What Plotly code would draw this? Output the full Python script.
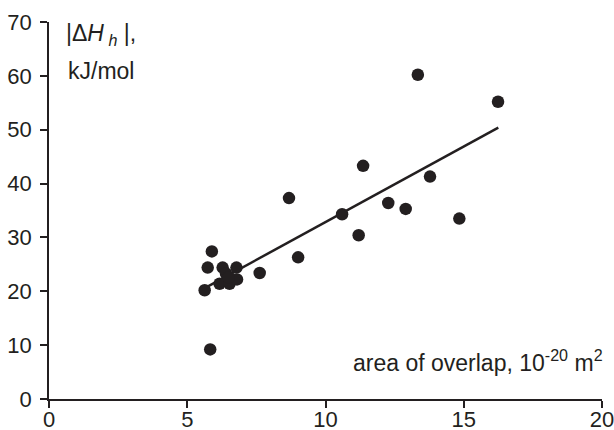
import plotly.graph_objects as go

# data
area = [5.83, 5.63, 5.74, 5.89, 6.17, 6.28, 6.40, 6.53, 6.78, 6.80, 6.50, 7.62,
        9.01, 8.68, 10.60, 11.20, 11.36, 12.27, 12.90, 13.78, 14.84, 13.34, 16.24]
dH = [9.2, 20.2, 24.4, 27.4, 21.4, 24.4, 23.3, 21.4, 24.4, 22.2, 22.6, 23.4,
      26.3, 37.3, 34.3, 30.4, 43.3, 36.4, 35.3, 41.3, 33.5, 60.2, 55.2]
fit_x = [5.6, 16.25]
fit_y = [20.5, 50.4]
x_ticks = [0, 5, 10, 15, 20]
y_ticks = [0, 10, 20, 30, 40, 50, 60, 70]

ink = "#231f20"
tick_font = dict(family="Liberation Sans, Arial, sans-serif", size=22, color=ink)
ann_font = dict(family="Liberation Sans, Arial, sans-serif", size=23, color=ink)

fig = go.Figure()
fig.add_trace(go.Scatter(x=fit_x, y=fit_y, mode="lines",
                         line=dict(color=ink, width=2.5), hoverinfo="skip"))
fig.add_trace(go.Scatter(x=area, y=dH, mode="markers",
                         marker=dict(color=ink, size=12.5, line=dict(width=0))))

fig.update_layout(
    width=614, height=430,
    margin=dict(l=49, r=12, t=22, b=31),
    plot_bgcolor="white", paper_bgcolor="white",
    showlegend=False,
    font=tick_font,
    xaxis=dict(range=[0, 20], tickvals=x_ticks, showgrid=False, zeroline=False,
               showline=True, linecolor=ink, linewidth=1.5, automargin=False,
               ticks="outside", ticklen=7, tickwidth=1.5, tickcolor=ink,
               ticklabelstandoff=-7, ticklabeloverflow="allow", tickfont=tick_font),
    yaxis=dict(range=[0, 70], tickvals=y_ticks, showgrid=False, zeroline=False,
               showline=True, linecolor=ink, linewidth=1.5, automargin=False,
               ticks="outside", ticklen=7, tickwidth=1.5, tickcolor=ink,
               ticklabelstandoff=4, ticklabeloverflow="allow", tickfont=tick_font),
    annotations=[
        dict(text="|Δ<i>H</i><sub> <i>h</i></sub> |,", x=0.027, y=0.966,
             xref="paper", yref="paper",
             xanchor="left", yanchor="middle", showarrow=False, font=ann_font),
        dict(text="kJ/mol", x=0.030, y=0.870, xref="paper", yref="paper",
             xanchor="left", yanchor="middle", showarrow=False, font=ann_font),
        dict(text="area of overlap, 10<sup>-20</sup> m<sup>2</sup>", x=1.006, y=0.10,
             xref="paper", yref="paper", xanchor="right", yanchor="middle",
             showarrow=False, font=ann_font),
    ],
)

fig.write_html("out.html", config={"displayModeBar": False},
               post_script="document.body.style.margin='0';document.body.style.overflow='hidden';")
